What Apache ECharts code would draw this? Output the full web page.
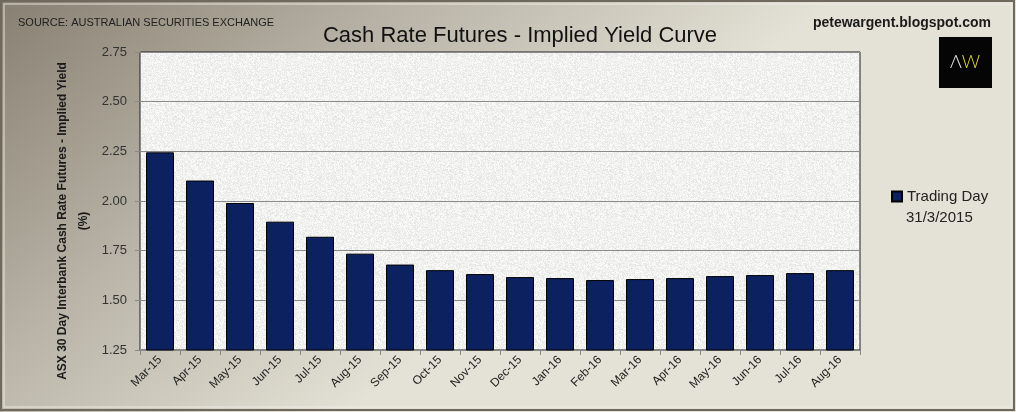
<!DOCTYPE html>
<html>
<head>
<meta charset="utf-8">
<script src="https://cdn.jsdelivr.net/npm/echarts@6/dist/echarts.min.js"></script>
<style>
html,body{margin:0;padding:0;background:#fff;}
#chart{width:1016px;height:412px;}
</style>
</head>
<body>
<div id="chart"></div>
<script>
// ---- data ----
var categories = ['Mar-15','Apr-15','May-15','Jun-15','Jul-15','Aug-15','Sep-15','Oct-15','Nov-15','Dec-15','Jan-16','Feb-16','Mar-16','Apr-16','May-16','Jun-16','Jul-16','Aug-16'];
var impliedYield = [2.245,2.103,1.99,1.896,1.82,1.735,1.68,1.652,1.632,1.617,1.612,1.602,1.607,1.612,1.622,1.627,1.637,1.652];
var seriesName = 'Trading Day 31/3/2015';
var legendLine1 = 'Trading Day';
var legendLine2 = '31/3/2015';
var yMin = 1.25, yMax = 2.75, yStep = 0.25;
var titleText = 'Cash Rate Futures - Implied Yield Curve';
var sourceText = 'SOURCE: AUSTRALIAN SECURITIES EXCHANGE';
var siteText = 'petewargent.blogspot.com';
var yAxisTitle = 'ASX 30 Day Interbank Cash Rate Futures - Implied Yield\n(%)';

// ---- decorative texture for plot area (style only) ----
function makeTexture(){
  var c = document.createElement('canvas');
  c.width = 160; c.height = 160;
  var ctx = c.getContext('2d');
  var img = ctx.createImageData(160,160);
  var s = 12345;
  for (var i=0;i<160*160;i++){
    s = (s*1103515245 + 12345) & 0x7fffffff;
    var v = 229 + (s % 26);
    img.data[i*4]=v; img.data[i*4+1]=v; img.data[i*4+2]=v-1; img.data[i*4+3]=255;
  }
  ctx.putImageData(img,0,0);
  return c;
}

var GL = 140, GT = 52, GR = 860, GB = 350;
var FONT = 'Liberation Sans, Arial, sans-serif';

var chart = echarts.init(document.getElementById('chart'), null, {renderer:'canvas'});
chart.setOption({
  animation:false,
  backgroundColor:'#c9c4b8',
  title:{
    text:titleText, left:515, top:20, textAlign:'center',
    textStyle:{fontFamily:FONT, fontSize:22, fontWeight:'normal', color:'#111'}
  },
  legend:{
    left:891, top:189, orient:'vertical', padding:0,
    itemWidth:10, itemHeight:10,
    data:[{name:seriesName, icon:'rect'}],
    formatter:function(){ return legendLine1; },
    textStyle:{fontFamily:FONT, fontSize:15, color:'#222'}
  },
  grid:{left:GL, top:GT, right:1016-GR, bottom:412-GB, show:true, borderColor:'#222', borderWidth:1, backgroundColor:'transparent'},
  xAxis:{
    type:'category', data:categories,
    axisLine:{lineStyle:{color:'#888', width:1}},
    axisTick:{show:true, length:5, lineStyle:{color:'#888'}},
    axisLabel:{rotate:45, fontSize:12, color:'#222', fontFamily:FONT, margin:8}
  },
  yAxis:{
    type:'value', min:yMin, max:yMax, interval:yStep,
    axisLine:{show:true, lineStyle:{color:'#888'}},
    axisTick:{show:true, length:5, lineStyle:{color:'#888'}},
    splitLine:{lineStyle:{color:'#8a8a8a', width:1}},
    axisLabel:{formatter:function(v){return v.toFixed(2);}, fontSize:13, color:'#333', fontFamily:FONT, margin:13}
  },
  series:[{
    name:seriesName, type:'bar', data:impliedYield,
    barCategoryGap:'30%',
    itemStyle:{color:'#0c2160', borderColor:'#000', borderWidth:1}
  }],
  graphic:[
    {type:'rect', z:-30, silent:true, shape:{x:0,y:0,width:1016,height:412},
     style:{fill:new echarts.graphic.LinearGradient(0,0,0.35,1,[{offset:0,color:'#877f72'},{offset:0.5,color:'#b9b4a7'},{offset:1,color:'#e4e1d6'}])}},
    {type:'rect', z:-29, silent:true, shape:{x:1,y:1,width:1013,height:409}, style:{fill:'none', stroke:'#6e685d', lineWidth:2}},
    {type:'rect', z:-29, silent:true, shape:{x:4,y:4,width:1007,height:403}, style:{fill:'none', stroke:'rgba(240,238,230,0.6)', lineWidth:1.5}},
    {type:'rect', z:-20, silent:true, shape:{x:GL,y:GT,width:GR-GL,height:GB-GT}, style:{fill:{image:makeTexture(), repeat:'repeat'}}},
    {type:'text', left:18, top:17, style:{text:sourceText, fontFamily:FONT, fontSize:11, fill:'#222'}},
    {type:'text', right:25, top:16, style:{text:siteText, fontFamily:FONT, fontSize:14, fontWeight:'bold', fill:'#1a1a1a'}},
    {type:'text', x:906, y:218, style:{text:legendLine2, fontFamily:FONT, fontSize:15, fill:'#222', verticalAlign:'middle'}},
    {type:'rect', silent:true, shape:{x:939,y:37,width:53,height:51}, style:{fill:'#050505'}},
    {type:'text', x:965, y:62, style:{text:'{a|Λ}{b|W}', align:'center', verticalAlign:'middle',
      rich:{a:{fontFamily:'Lato, sans-serif', fontWeight:300, fontSize:18, fill:'#e8e8e8'}, b:{fontFamily:'Lato, sans-serif', fontWeight:300, fontSize:18, fill:'#e4d93a'}}}},
    {type:'text', x:73, y:221, rotation:Math.PI/2, style:{text:yAxisTitle, align:'center', verticalAlign:'middle',
      fontFamily:FONT, fontSize:12, fontWeight:'bold', fill:'#1a1a1a', lineHeight:21}}
  ]
});
</script>
</body>
</html>
